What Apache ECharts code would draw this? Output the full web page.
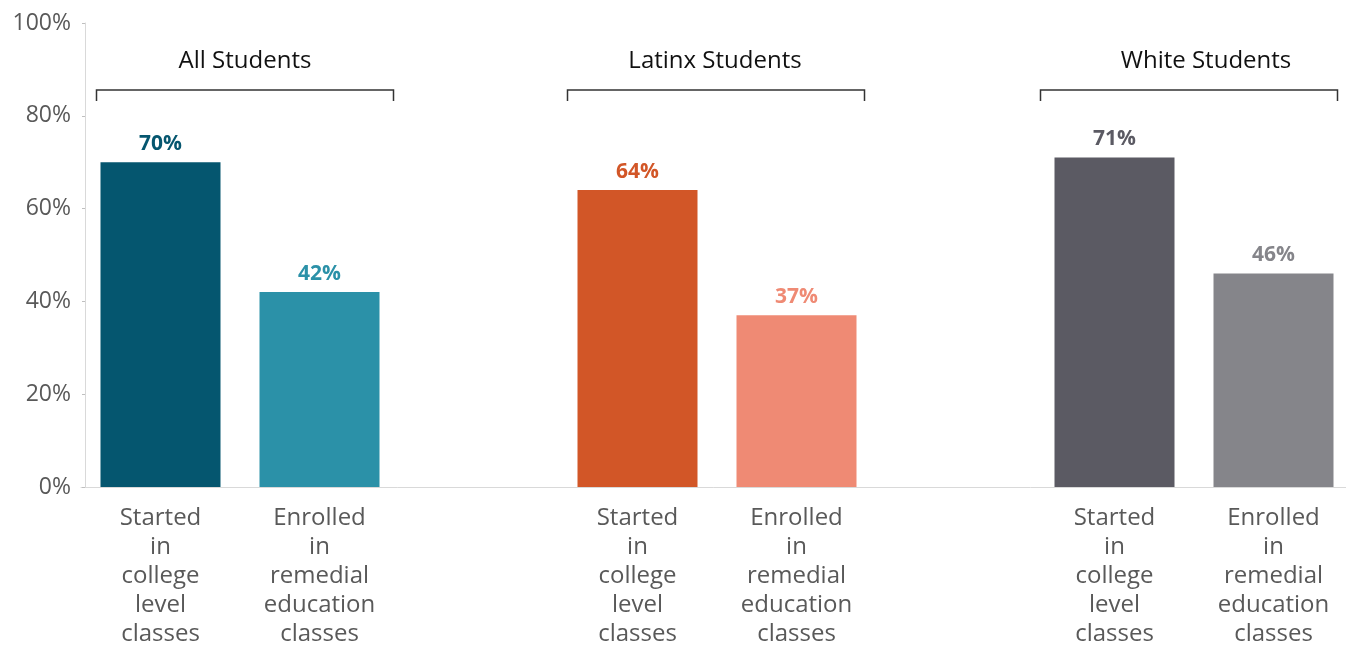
<!DOCTYPE html>
<html>
<head>
<meta charset="utf-8">
<script src="https://cdn.jsdelivr.net/npm/echarts@6/dist/echarts.min.js"></script>
<style>
html,body{margin:0;padding:0;background:#fff;}
#chart{width:1346px;height:646px;}
</style>
</head>
<body>
<div id="chart"></div>
<script>
// ---- data ----
var groups = ['All Students', 'Latinx Students', 'White Students'];
var barLabels = ['Started\nin\ncollege\nlevel\nclasses', 'Enrolled\nin\nremedial\neducation\nclasses'];
var startedCollegeLevel = [70, 64, 71];
var enrolledRemedial = [42, 37, 46];
var yTicks = [0, 20, 40, 60, 80, 100];
var startedColors = ['#05566F', '#D25627', '#5B5A63'];
var remedialColors = ['#2B91A8', '#EF8A74', '#85858A'];

// build slot layout: two bars per group with an empty slot between groups
var cats = [], vals = [], groupSlots = [];
groups.forEach(function (g, i) {
  groupSlots.push([cats.length, cats.length + 1]);
  cats.push(barLabels[0]);
  vals.push({ value: startedCollegeLevel[i], itemStyle: { color: startedColors[i] }, label: { color: startedColors[i] } });
  cats.push(barLabels[1]);
  vals.push({ value: enrolledRemedial[i], itemStyle: { color: remedialColors[i] }, label: { color: remedialColors[i] } });
  if (i < groups.length - 1) { cats.push(''); vals.push('-'); }
});

var FONT = 'Open Sans';
var chart = echarts.init(document.getElementById('chart'));
chart.setOption({
  animation: false,
  textStyle: { fontFamily: FONT },
  grid: { left: 81, top: 23, width: 1272, height: 464, containLabel: false, outerBoundsMode: 'none' },
  xAxis: {
    type: 'category',
    data: cats,
    axisLine: { lineStyle: { color: '#D9D9D9', width: 1 } },
    axisTick: { alignWithLabel: true, length: 3, lineStyle: { color: '#BFBFBF' } },
    axisLabel: { interval: 0, color: '#595959', fontSize: 24, lineHeight: 29, margin: 17, fontFamily: FONT }
  },
  yAxis: {
    type: 'value',
    min: yTicks[0], max: yTicks[yTicks.length - 1], interval: 20,
    offset: -4,
    splitLine: { show: false },
    axisLine: { show: true, lineStyle: { color: '#D9D9D9', width: 1 } },
    axisTick: { show: true, length: 3, lineStyle: { color: '#BFBFBF' } },
    axisLabel: { formatter: '{value}%', color: '#595959', fontSize: 23, margin: 14, fontFamily: FONT }
  },
  series: [{
    type: 'bar',
    data: vals,
    barWidth: 120,
    label: { show: true, position: 'top', distance: 8, formatter: '{c}%', fontSize: 21, fontWeight: 'bold', fontFamily: FONT }
  }]
});

// group titles and brackets positioned from the axis scale
var bracketShift = [5, -1, -5];
var titleShift = [5, -2, 12];
var graphics = [];
groupSlots.forEach(function (s, i) {
  var x1 = chart.convertToPixel({ xAxisIndex: 0 }, s[0]);
  var x2 = chart.convertToPixel({ xAxisIndex: 0 }, s[1]);
  var mid = (x1 + x2) / 2;
  var bm = mid + bracketShift[i];
  var half = 148.5;
  graphics.push({
    type: 'polyline',
    shape: { points: [[bm - half, 101], [bm - half, 90], [bm + half, 90], [bm + half, 101]] },
    style: { stroke: '#333333', lineWidth: 1.5, fill: null }
  });
  graphics.push({
    type: 'text',
    x: mid + titleShift[i], y: 61,
    style: { text: groups[i], fontSize: 24, fontFamily: FONT, fill: '#111111', align: 'center', verticalAlign: 'middle' }
  });
});
chart.setOption({ graphic: graphics });
</script>
</body>
</html>
